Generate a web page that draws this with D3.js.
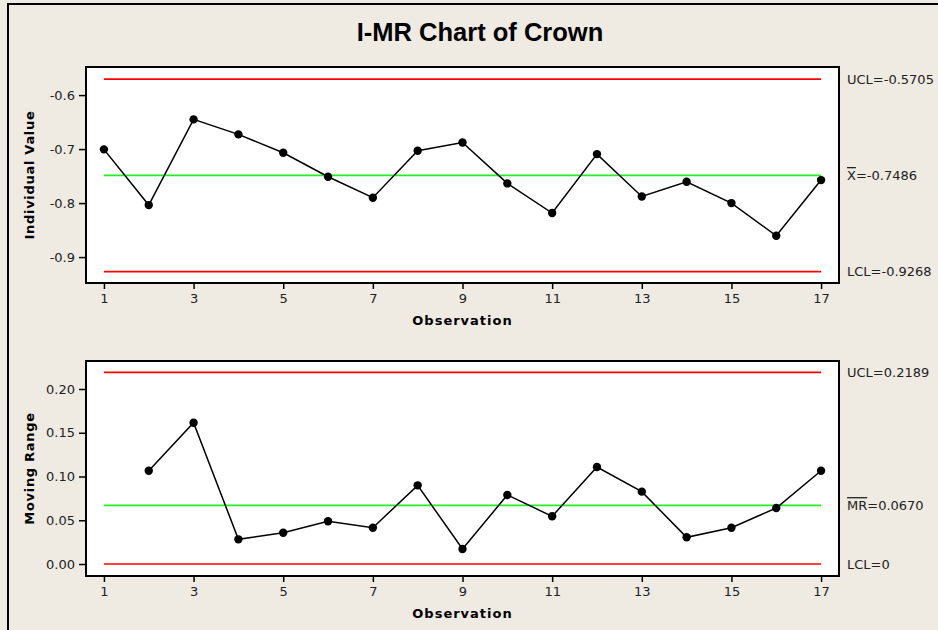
<!DOCTYPE html>
<html>
<head>
<meta charset="utf-8">
<script src="https://cdn.jsdelivr.net/npm/d3@7"></script>
<style>
  body { margin: 0; background: #efebe2; }
  svg { display: block; }
  .tick text { font-family: "DejaVu Sans", sans-serif; font-size: 13px; fill: #222; }
</style>
</head>
<body>
<div id="chart"></div>
<script>
const width = 938;
const height = 630;

// observations 1..17
const observations = d3.range(1, 18);
const xTicks = [1, 3, 5, 7, 9, 11, 13, 15, 17];

// individual values
const individualValues = [
	-0.7005, -0.8037, -0.645, -0.6728, -0.7068, -0.7512, -0.790, -0.703, -0.6877,
	-0.7636, -0.8185, -0.7093, -0.7877, -0.7605, -0.800, -0.8605, -0.7574,
];
const iTicks = [-0.6, -0.7, -0.8, -0.9];
const iLimits = { ucl: -0.5705, center: -0.7486, lcl: -0.9268 };

// moving ranges (first observation has none)
const movingRanges = [
	null, 0.1066, 0.1615, 0.0282, 0.0358, 0.0488, 0.0415, 0.0899, 0.0171,
	0.0789, 0.0545, 0.1109, 0.0827, 0.0305, 0.0415, 0.064, 0.1066,
];
const mrTicks = [0.0, 0.05, 0.1, 0.15, 0.2];
const mrLimits = { ucl: 0.2189, center: 0.067, lcl: 0 };

// plain hyphen instead of unicode minus, like the original
const hyphen = (f) => (d) => f(d).replace("\u2212", "-");

const svg = d3
	.select("#chart")
	.append("svg")
	.attr("width", width)
	.attr("height", height);

svg.append("rect")
	.attr("width", width)
	.attr("height", height)
	.style("fill", "#efebe2");

// outer frame (left + top edge visible)
svg.append("path")
	.attr("d", "M8,640 L8,4 L950,4")
	.style("fill", "none")
	.style("stroke", "#000")
	.style("stroke-width", 2);

svg.append("text")
	.attr("x", 480)
	.attr("y", 41)
	.attr("text-anchor", "middle")
	.style("font-family", "'Liberation Sans', Arial, sans-serif")
	.style("font-weight", "bold")
	.style("font-size", "25.5px")
	.text("I-MR Chart of Crown");

const x = d3.scaleLinear().domain([0.6, 17.4]).range([86, 839]);

function drawPanel(opt) {
	const y = d3.scaleLinear().domain(opt.domain).range([opt.bottom, opt.top]);
	const g = svg.append("g");

	g.append("rect")
		.attr("x", x.range()[0])
		.attr("y", opt.top)
		.attr("width", x.range()[1] - x.range()[0])
		.attr("height", opt.bottom - opt.top)
		.style("fill", "#fff");

	// control limits
	const limits = [
		{ v: opt.limits.ucl, color: "#ff0000", label: opt.labels[0] },
		{ v: opt.limits.center, color: "#22ee22", label: opt.labels[1] },
		{ v: opt.limits.lcl, color: "#ff0000", label: opt.labels[2] },
	];
	g.selectAll(".limit")
		.data(limits)
		.join("line")
		.attr("class", "limit")
		.attr("x1", x(1))
		.attr("x2", x(17))
		.attr("y1", (d) => y(d.v))
		.attr("y2", (d) => y(d.v))
		.style("stroke", (d) => d.color)
		.style("stroke-width", 1.7);

	const pts = observations
		.map((o, i) => ({ o: o, v: opt.values[i] }))
		.filter((d) => d.v !== null);

	g.append("path")
		.datum(pts)
		.attr("d", d3.line().x((d) => x(d.o)).y((d) => y(d.v)))
		.style("fill", "none")
		.style("stroke", "#000")
		.style("stroke-width", 1.5);

	g.selectAll(".dot")
		.data(pts)
		.join("circle")
		.attr("class", "dot")
		.attr("cx", (d) => x(d.o))
		.attr("cy", (d) => y(d.v))
		.attr("r", 4.2)
		.style("fill", "#000");

	g.append("rect")
		.attr("x", x.range()[0])
		.attr("y", opt.top)
		.attr("width", x.range()[1] - x.range()[0])
		.attr("height", opt.bottom - opt.top)
		.style("fill", "none")
		.style("stroke", "#000")
		.style("stroke-width", 2);

	const yAxis = g.append("g")
		.attr("transform", "translate(" + x.range()[0] + ",0)")
		.call(d3.axisLeft(y).tickValues(opt.ticks).tickFormat(hyphen(opt.fmt)).tickSize(7).tickPadding(4));
	yAxis.select(".domain").remove();
	yAxis.selectAll(".tick line").style("stroke-width", 1.5);

	const xAxis = g.append("g")
		.attr("transform", "translate(0," + opt.bottom + ")")
		.call(d3.axisBottom(x).tickValues(xTicks).tickFormat(d3.format("d")).tickSize(6).tickPadding(5));
	xAxis.select(".domain").remove();
	xAxis.selectAll(".tick line").style("stroke-width", 1.5);

	g.append("text")
		.attr("x", (x.range()[0] + x.range()[1]) / 2)
		.attr("y", opt.bottom + 42)
		.attr("text-anchor", "middle")
		.style("font-family", "'DejaVu Sans', sans-serif")
		.style("font-weight", "bold")
		.style("font-size", "13px")
		.style("letter-spacing", "1px")
		.text("Observation");

	g.append("text")
		.attr("transform", "translate(34," + (opt.top + opt.bottom) / 2 + ") rotate(-90)")
		.attr("text-anchor", "middle")
		.style("font-family", "'DejaVu Sans', sans-serif")
		.style("font-weight", "bold")
		.style("font-size", "13px")
		.style("letter-spacing", "0.7px")
		.text(opt.yLabel);

	// limit labels on the right
	const lbl = g.selectAll(".limit-label")
		.data(limits)
		.join("text")
		.attr("class", "limit-label")
		.attr("x", 847)
		.attr("y", (d) => y(d.v))
		.attr("dy", "0.36em")
		.style("font-family", "'DejaVu Sans', sans-serif")
		.style("font-size", "13px")
		.style("fill", "#222");
	lbl.each(function (d) {
		const t = d3.select(this);
		if (d.label.bar) {
			t.append("tspan").style("text-decoration", "overline").text(d.label.bar);
		}
		t.append("tspan").text(d.label.text);
	});
}

drawPanel({
	top: 67,
	bottom: 283,
	domain: [-0.948, -0.548],
	values: individualValues,
	ticks: iTicks,
	fmt: d3.format(".1f"),
	limits: iLimits,
	yLabel: "Individual Value",
	labels: [
		{ text: "UCL=-0.5705" },
		{ bar: "X", text: "=-0.7486" },
		{ text: "LCL=-0.9268" },
	],
});

drawPanel({
	top: 361,
	bottom: 576,
	domain: [-0.0137, 0.232],
	values: movingRanges,
	ticks: mrTicks,
	fmt: d3.format(".2f"),
	limits: mrLimits,
	yLabel: "Moving Range",
	labels: [
		{ text: "UCL=0.2189" },
		{ bar: "MR", text: "=0.0670" },
		{ text: "LCL=0" },
	],
});
</script>
</body>
</html>
